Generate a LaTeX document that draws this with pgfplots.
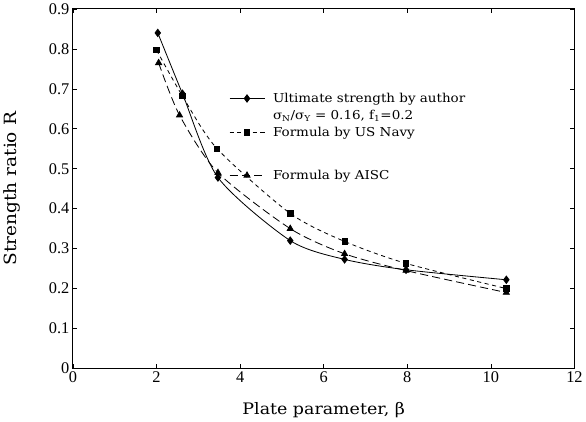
\documentclass[border=0pt]{standalone}
\usepackage{fontspec}
\setmainfont{DejaVu Serif}[FakeStretch=1.1]
\newfontfamily\tickfont{Liberation Serif}
\usepackage{pgfplots}
\pgfplotsset{compat=1.18}
\begin{document}
\begin{tikzpicture}
\begin{axis}[
  scale only axis,
  width=491pt, height=352pt,
  xmin=0, xmax=12, ymin=0, ymax=0.9,
  xtick={0,2,...,12},
  ytick={0,0.1,...,0.9},
  yticklabels={0,0.1,0.2,0.3,0.4,0.5,0.6,0.7,0.8,0.9},
  /pgf/number format/assume math mode=true,
  tick label style={font=\tickfont\fontsize{16}{18}\selectfont},
  tick align=inside,
  major tick length=4pt,
  tick style={black, line width=0.6pt},
  axis line style={line width=0.9pt},
  xlabel={Plate parameter, β},
  ylabel={Strength ratio R},
  every axis x label/.style={at={(axis description cs:0.5,0)}, yshift=-41pt, anchor=center},
  every axis y label/.style={at={(axis description cs:0,0.5)}, xshift=-60pt, rotate=90, anchor=center},
  xlabel style={font=\fontsize{15.5}{17}\selectfont},
  ylabel style={font=\fontsize{16.5}{18}\selectfont},
  legend cell align=left,
  legend style={draw=none, fill=none, at={(0.305,0.778)}, anchor=north west,
    row sep=2pt, font=\fontsize{12}{13.5}\selectfont,
    /tikz/every odd column/.append style={column sep=6pt}},
  legend image code/.code={
    \draw[mark repeat=2,mark phase=2,#1] plot coordinates {(0cm,0cm) (0.6cm,0cm) (1.2cm,0cm)};},
]
\addplot[black, line width=0.8pt, smooth, tension=0.45, mark=diamond*, mark size=3.6pt, mark options={solid}]
  coordinates {(2.03,0.840) (2.62,0.688) (3.47,0.478) (5.2,0.320) (6.5,0.273) (7.97,0.247) (10.37,0.222)};
\addlegendentry{Ultimate strength by author}
\addlegendimage{empty legend}
\addlegendentry{σ\textsubscript{N}/σ\textsubscript{Y} = 0.16, f\textsubscript{1}=0.2}
\addplot[black, line width=0.8pt, dash pattern=on 4pt off 3.5pt, smooth, tension=0.45, mark=square*, mark size=2.6pt, mark options={solid}]
  coordinates {(2.0,0.797) (2.62,0.682) (3.45,0.550) (5.2,0.388) (6.5,0.318) (7.97,0.263) (10.37,0.200)};
\addlegendentry{Formula by US Navy}
\addlegendimage{empty legend}
\addlegendentry{\rule{0pt}{18pt}}
\addplot[black, line width=0.8pt, dash pattern=on 8pt off 4pt, smooth, tension=0.45, mark=triangle*, mark size=3.4pt, mark options={solid}]
  coordinates {(2.05,0.765) (2.55,0.634) (3.47,0.490) (5.2,0.350) (6.5,0.287) (7.97,0.245) (10.37,0.190)};
\addlegendentry{Formula by AISC}
\end{axis}
\end{tikzpicture}
\end{document}
